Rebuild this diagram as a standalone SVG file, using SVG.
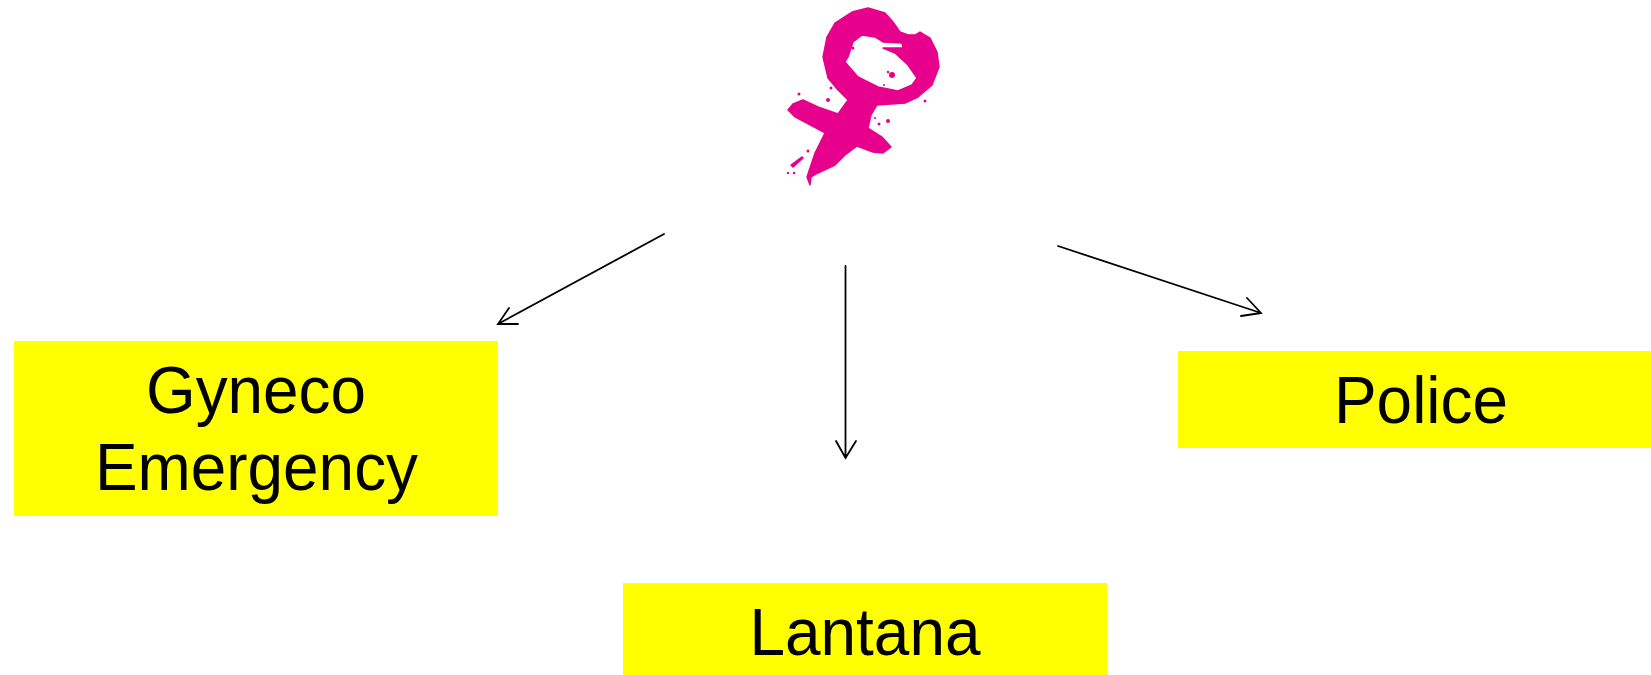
<svg xmlns="http://www.w3.org/2000/svg" width="1651" height="675" viewBox="0 0 1651 675">
<style>
.box{fill:#ffff00}
.label{font-family:"Liberation Sans",Arial,sans-serif;font-size:66px;fill:#000;text-anchor:middle}
.conn{fill:none;stroke:#000;stroke-width:1.8;stroke-linecap:round;stroke-linejoin:miter}
.pink{fill:#e6008c}
.body{stroke:#e6008c;stroke-width:1.4;stroke-linejoin:round}
</style>
<defs><filter id="soft" x="-5%" y="-5%" width="110%" height="110%"><feGaussianBlur stdDeviation="0.6"/></filter></defs>
<rect width="1651" height="675" fill="#fff"/>
<g id="symbol" filter="url(#soft)">
<path class="pink body" fill-rule="evenodd" d="M868 8L885 13L893 22L900 32L908 35L915 35L920 32L930 38L937 52L939 67L932 85L918 97L905 103L877 105L871 115L868 128L882 137L891 147L883 153L873 152L857 146L845 155L835 165L818 173L811 177L810 185L807 177L815 153L825 133L810 125L795 117L788 110L793 104L803 100L818 107L838 114L848 100L838 90L828 78L823 57L827 37L835 23L852 12ZM862 35L853 42L848 57L845 62L858 77L878 87L898 91L912 85L917 78L908 65L895 53L883 48L903 48L902 43L883 42L875 37Z"/>
<g class="pink">
<circle cx="853" cy="48" r="1.5"/><circle cx="892" cy="75" r="3"/><circle cx="888" cy="72" r="1.2"/><circle cx="884" cy="85" r="1"/>
<circle cx="925" cy="101" r="1.5"/><circle cx="831" cy="88" r="1.5"/><circle cx="828" cy="100" r="2"/><circle cx="799" cy="94" r="1.5"/>
<circle cx="808" cy="151" r="1.5"/><circle cx="788" cy="173" r="1.2"/><circle cx="794" cy="173" r="1.2"/>
<circle cx="888" cy="121" r="2"/><circle cx="879" cy="124" r="1.5"/><circle cx="875" cy="118" r="1"/>
<path d="M790 165L802 156L804 158L793 168Z"/>
</g>
</g>
<g id="connectors">
<path class="conn" d="M664 234L498 324M509 308L498 324L518 324"/>
<path class="conn" d="M845.5 266V458M836 441L845.5 458L856 441"/>
<path class="conn" d="M1058 246L1261 313M1247 298L1261 313L1241 316"/>
</g>
<g id="gyneco">
<rect class="box" x="14" y="341" width="484" height="175"/>
<text class="label" x="256" y="413" textLength="220" lengthAdjust="spacingAndGlyphs">Gyneco</text>
<text class="label" x="256.500" y="490" textLength="323" lengthAdjust="spacingAndGlyphs">Emergency</text>
</g>
<g id="police">
<rect class="box" x="1178" y="351" width="473" height="97"/>
<text class="label" x="1421" y="423" textLength="174" lengthAdjust="spacingAndGlyphs">Police</text>
</g>
<g id="lantana">
<rect class="box" x="623" y="583" width="484" height="92"/>
<text class="label" x="865" y="655" textLength="231" lengthAdjust="spacingAndGlyphs">Lantana</text>
</g>
</svg>
